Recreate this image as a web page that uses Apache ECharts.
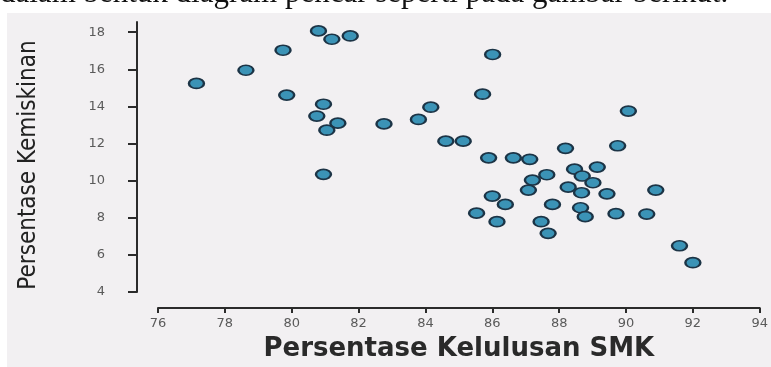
<!DOCTYPE html>
<html>
<head>
<meta charset="utf-8">
<script src="https://cdn.jsdelivr.net/npm/echarts@6/dist/echarts.min.js"></script>
<style>
html,body{margin:0;padding:0;background:#ffffff;}
#chart{width:771px;height:367px;}
</style>
</head>
<body>
<div id="chart"></div>
<script>
// Data
var kelulusanSMK = [80.80, 81.20, 81.75, 79.74, 78.63, 77.15, 79.85, 80.95, 80.75, 81.38, 81.05, 80.95, 82.76,
  86.01, 85.71, 84.16, 83.79, 84.61, 85.13, 88.19, 89.75, 90.07, 85.89, 86.63, 87.12, 88.46, 89.14,
  87.63, 87.20, 88.69, 89.01, 88.27, 87.08, 88.67, 89.43, 86.00, 86.39, 87.80, 88.64, 85.53, 89.70,
  88.78, 86.14, 87.46, 87.67, 90.89, 90.62, 91.60, 92.00];
var kemiskinan = [18.07, 17.62, 17.80, 17.03, 15.95, 15.24, 14.61, 14.12, 13.48, 13.10, 12.72, 10.34, 13.06,
  16.80, 14.66, 13.96, 13.30, 12.13, 12.13, 11.74, 11.88, 13.75, 11.23, 11.23, 11.15, 10.62, 10.73,
  10.32, 10.03, 10.25, 9.89, 9.65, 9.49, 9.35, 9.29, 9.17, 8.72, 8.72, 8.54, 8.25, 8.22,
  8.06, 7.79, 7.79, 7.16, 9.49, 8.20, 6.49, 5.58];
var yTicks = [4, 6, 8, 10, 12, 14, 16, 18];
var xTicks = [76, 78, 80, 82, 84, 86, 88, 90, 92, 94];
var introText = 'dalam bentuk diagram pencar seperti pada gambar berikut.';
var xName = 'Persentase Kelulusan SMK';
var yName = 'Persentase Kemiskinan';

var points = kelulusanSMK.map(function (x, i) { return [x, kemiskinan[i]]; });

var chart = echarts.init(document.getElementById('chart'), null, {renderer: 'canvas'});
chart.setOption({
  animation: false,
  backgroundColor: '#ffffff',
  graphic: [
    {type: 'rect', z: -10, silent: true, shape: {x: 7, y: 13, width: 764, height: 354}, style: {fill: '#f2f0f2'}},
    {type: 'text', z: 10, silent: true, style: {x: 0, y: 9, text: introText, verticalAlign: 'bottom',
      font: '31px "Liberation Serif", serif', fill: '#111111'}}
  ],
  grid: {left: 158, right: 6, top: 22, bottom: 75, containLabel: false},
  xAxis: {
    type: 'value', min: 76, max: 94, interval: 2, offset: 16,
    splitLine: {show: false},
    axisLine: {show: true, lineStyle: {color: '#2b2b2b', width: 2}},
    axisTick: {show: true, length: 5, lineStyle: {color: '#2b2b2b', width: 2}, customValues: xTicks},
    axisLabel: {margin: 9, color: '#5a5a5a', fontFamily: '"DejaVu Sans"', fontSize: 13, customValues: xTicks},
    name: xName, nameLocation: 'middle', nameGap: 28,
    nameTextStyle: {fontFamily: '"DejaVu Sans"', fontWeight: 'bold', fontSize: 26, color: '#2a2a2a'}
  },
  yAxis: {
    type: 'value', min: 4, max: 18.55, offset: 21,
    splitLine: {show: false},
    axisLine: {show: true, lineStyle: {color: '#2b2b2b', width: 2}},
    axisTick: {show: true, length: 9, lineStyle: {color: '#2b2b2b', width: 2}, customValues: yTicks},
    axisLabel: {margin: 32, color: '#5a5a5a', fontFamily: '"DejaVu Sans"', fontSize: 13, customValues: yTicks},
    name: yName, nameLocation: 'middle', nameGap: 96,
    nameTextStyle: {fontFamily: '"DejaVu Sans Condensed", sans-serif', fontSize: 24, color: '#222222',
      padding: [0, 16, 0, 0]}
  },
  series: [{
    type: 'scatter',
    data: points,
    symbol: 'circle',
    symbolSize: [15, 10],
    itemStyle: {color: '#3b93b6', borderColor: '#1c3446', borderWidth: 2, opacity: 1}
  }]
});
</script>
</body>
</html>
